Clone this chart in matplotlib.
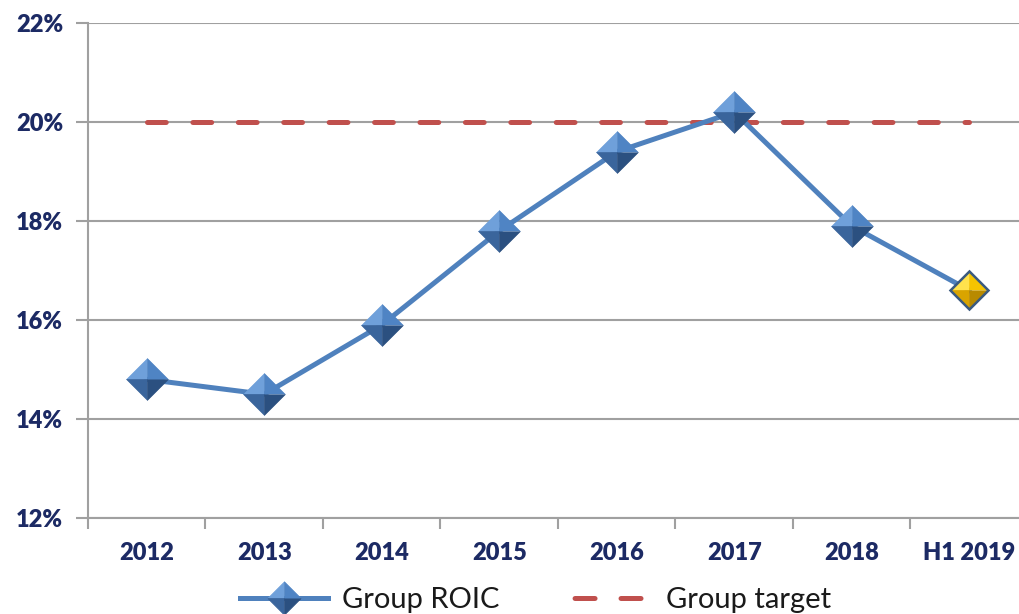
import matplotlib
matplotlib.use("Agg")
import matplotlib.pyplot as plt
from matplotlib.lines import Line2D
from matplotlib.legend_handler import HandlerTuple
from matplotlib.ticker import FuncFormatter

categories = ["2012", "2013", "2014", "2015", "2016", "2017", "2018", "H1 2019"]
roic = [14.8, 14.5, 15.9, 17.8, 19.4, 20.2, 17.9, 16.6]
target = [20, 20, 20, 20, 20, 20, 20, 20]
yticks = [12, 14, 16, 18, 20, 22]

plt.rcParams['font.family'] = ['Lato', 'DejaVu Sans']
plt.rcParams['lines.scale_dashes'] = False

fig = plt.figure(figsize=(10.2, 6.14), dpi=100)
ax = fig.add_axes([88/1020, 96/614, 940/1020, 495/614])
x = list(range(len(categories)))

line_color = '#4F81BD'
dash_pat = (13.5, 19.2)
ax.plot(x, target, color='#C0504D', lw=3.6, dashes=dash_pat,
        dash_capstyle='round', zorder=3)
ax.plot(x, roic, color=line_color, lw=3.6, zorder=4)

# shaded diamond markers (four facets)
facets = {
    'tl': [(0, 0), (-1, 0), (0, 1)],
    'tr': [(0, 0), (0, 1), (1, 0)],
    'bl': [(0, 0), (-1, 0), (0, -1)],
    'br': [(0, 0), (0, -1), (1, 0)],
}
blue_cols = {'tl': '#6fa0da', 'tr': '#4f84c4', 'bl': '#3a659c', 'br': '#2b5080'}
gold_cols = {'tl': '#ffe24d', 'tr': '#f5c400', 'bl': '#d9a400', 'br': '#b88a00'}
ms = 30
blue_handles = []
for k, verts in facets.items():
    h, = ax.plot(x[:-1], roic[:-1], ls='none', marker=verts, ms=ms,
                 markerfacecolor=blue_cols[k], markeredgecolor=blue_cols[k],
                 markeredgewidth=0.5, zorder=5)
    blue_handles.append(h)
    ax.plot(x[-1:], roic[-1:], ls='none', marker=verts, ms=ms * 0.93,
            markerfacecolor=gold_cols[k], markeredgecolor=gold_cols[k],
            markeredgewidth=0.5, zorder=5)
ax.plot(x[-1:], roic[-1:], ls='none', marker='D', ms=ms * 0.93 / 1.414,
        markerfacecolor='none', markeredgecolor='#3a5a80', markeredgewidth=1.8, zorder=6)

ax.set_xlim(-0.5, 7.5)
ax.set_ylim(12, 22)
ax.set_yticks(yticks)
ax.yaxis.set_major_formatter(FuncFormatter(lambda v, p: f"{v:.0f}%"))
ax.set_xticks(x)
ax.set_xticklabels(categories)
ax.set_xticks([i - 0.5 for i in range(len(categories) + 1)], minor=True)
ax.tick_params(axis='x', which='major', length=0, pad=17)
ax.tick_params(axis='x', which='minor', length=8, width=1.5, color='#a0a0a0', direction='out')
ax.tick_params(axis='y', length=9, width=1.5, color='#a0a0a0', pad=9)
for lab in ax.get_xticklabels() + ax.get_yticklabels():
    lab.set_fontsize(17)
    lab.set_fontweight('heavy')
    lab.set_color('#1c2a64')

ax.grid(axis='y', color='#a0a0a0', lw=1.5)
ax.set_axisbelow(True)
for s in ['top', 'right']:
    ax.spines[s].set_visible(False)
for s in ['left', 'bottom']:
    ax.spines[s].set_color('#a0a0a0')
    ax.spines[s].set_linewidth(1.5)

roic_handle = Line2D([0], [0], color=line_color, lw=3.6)
leg_facets = []
for k, verts in facets.items():
    leg_facets.append(Line2D([0], [0], ls='none', marker=verts, ms=24,
                             markerfacecolor=blue_cols[k], markeredgecolor=blue_cols[k],
                             markeredgewidth=0.5))
target_handle = Line2D([0], [0], color='#C0504D', lw=3.6,
                       linestyle=(25.5, (14.4, 18.7)), dash_capstyle='round')
fig.legend([tuple([roic_handle] + leg_facets), target_handle],
           ['Group ROIC', 'Group target'],
           handler_map={tuple: HandlerTuple(ndivide=1, pad=0)},
           loc='center', bbox_to_anchor=(0.525, 0.023), ncol=2, frameon=False,
           fontsize=21, handlelength=3.0, columnspacing=2.2, handletextpad=0.5,
           labelcolor='#1a1a1a')

fig.savefig('out.png', dpi=100)
